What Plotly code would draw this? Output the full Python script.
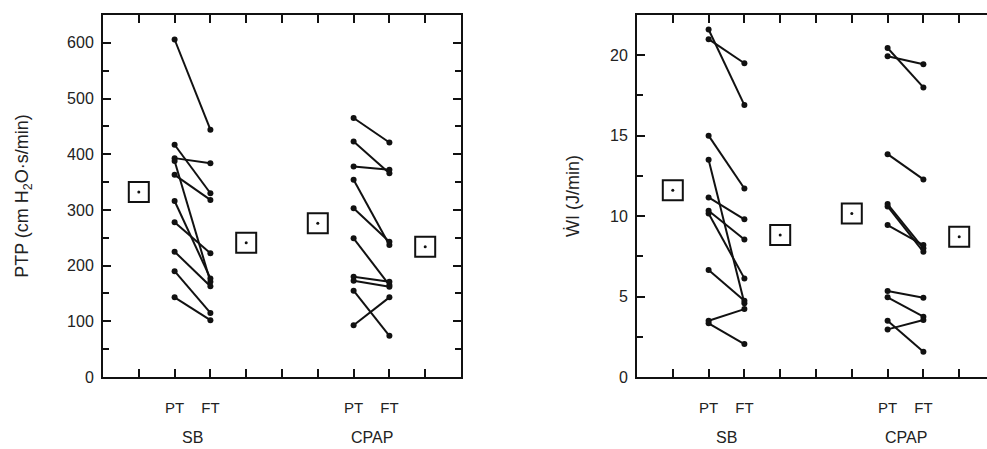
import plotly.graph_objects as go

# ---- data ----
ptp_sb_pt = [606, 417, 393, 388, 363, 316, 278, 225, 190, 143]
ptp_sb_ft = [444, 330, 384, 171, 318, 177, 222, 163, 115, 102]
ptp_cpap_pt = [465, 423, 378, 354, 303, 249, 180, 173, 155, 93]
ptp_cpap_ft = [421, 366, 372, 237, 243, 165, 171, 162, 74, 143]
ptp_means = [332, 241, 276, 234]

wi_sb_pt = [21.6, 21.0, 15.0, 13.5, 11.16, 10.33, 10.16, 6.65, 3.5, 3.34]
wi_sb_ft = [16.9, 19.5, 11.72, 4.58, 9.8, 8.55, 6.13, 4.74, 4.22, 2.05]
wi_cpap_pt = [20.45, 19.94, 13.85, 10.75, 10.6, 9.44, 5.34, 4.95, 3.5, 2.96]
wi_cpap_ft = [18.0, 19.44, 12.28, 8.0, 7.78, 8.2, 4.93, 3.75, 1.57, 3.54]
wi_means = [11.6, 8.82, 10.16, 8.71]

mean_pos = [1, 4, 6, 9]          # SB PT mean, SB FT mean, CPAP PT mean, CPAP FT mean
pair_pos = {"SB": (2, 3), "CPAP": (7, 8)}
tick_vals = [2, 3, 7, 8]
tick_text = ["PT", "FT", "PT", "FT"]
group_labels = ["SB", "CPAP"]
group_pos = [2.5, 7.5]

FONT = "Liberation Sans, Arial, Helvetica, sans-serif"
INK = "#111111"
TXT = "#222222"

fig = go.Figure()


def add_pairs(pt, ft, xs, xa, ya):
    x, y = [], []
    for a, b in zip(pt, ft):
        x += [xs[0], xs[1], None]
        y += [a, b, None]
    fig.add_trace(go.Scatter(x=x, y=y, mode="lines+markers", xaxis=xa, yaxis=ya,
                             line=dict(color=INK, width=2),
                             marker=dict(color=INK, size=6),
                             showlegend=False, hoverinfo="skip"))


def add_means(vals, xa, ya):
    fig.add_trace(go.Scatter(x=mean_pos, y=vals, mode="markers", xaxis=xa, yaxis=ya,
                             marker=dict(symbol="square-open", size=20, color=INK,
                                         line=dict(width=2, color=INK)),
                             showlegend=False, hoverinfo="skip"))
    fig.add_trace(go.Scatter(x=mean_pos, y=vals, mode="markers", xaxis=xa, yaxis=ya,
                             marker=dict(symbol="circle", size=3, color=INK),
                             showlegend=False, hoverinfo="skip"))


add_pairs(ptp_sb_pt, ptp_sb_ft, pair_pos["SB"], "x", "y")
add_pairs(ptp_cpap_pt, ptp_cpap_ft, pair_pos["CPAP"], "x", "y")
add_means(ptp_means, "x", "y")
add_pairs(wi_sb_pt, wi_sb_ft, pair_pos["SB"], "x2", "y2")
add_pairs(wi_cpap_pt, wi_cpap_ft, pair_pos["CPAP"], "x2", "y2")
add_means(wi_means, "x2", "y2")

W, H = 987, 449
L0, L1 = 103, 461
R0 = 637
unit = (L1 - L0) / 10.0

xcommon = dict(tickvals=tick_vals, ticktext=tick_text, ticks="inside", ticklen=8,
               tickwidth=1.5, tickcolor=INK, showline=True, linecolor=INK, linewidth=2,
               minor=dict(dtick=1, tick0=0, ticks="inside", ticklen=8, tickwidth=1.5, tickcolor=INK),
               mirror="ticks", showgrid=False, zeroline=False,
               tickfont=dict(family=FONT, size=15, color=TXT), ticklabelstandoff=16)
ycommon = dict(ticks="inside", ticklen=8, tickwidth=1.5, tickcolor=INK, showline=True,
               linecolor=INK, linewidth=2, showgrid=False, zeroline=False,
               tickfont=dict(family=FONT, size=16, color=TXT), ticklabelstandoff=4,
               title_font=dict(family=FONT, size=18, color=TXT))

fig.update_layout(
    width=W, height=H, plot_bgcolor="white", paper_bgcolor="white",
    margin=dict(l=0, r=0, t=15, b=72),
    xaxis=dict(domain=[L0 / W, L1 / W], range=[0, 10], anchor="y", **xcommon),
    yaxis=dict(domain=[0, 1], range=[0, 650], anchor="x", tickvals=[0, 100, 200, 300, 400, 500, 600],
               minor=dict(dtick=50, ticks="inside", ticklen=6, tickcolor=INK, tickwidth=1.5),
               mirror="ticks",
               title=dict(text="PTP (cm H<sub>2</sub>O·s/min)", standoff=34), **ycommon),
    xaxis2=dict(domain=[R0 / W, 1.0], range=[0, (W - R0) / unit], anchor="y2", **xcommon),
    yaxis2=dict(domain=[0, 1], range=[0, 22.5], anchor="x2", tickvals=[0, 5, 10, 15, 20],
                minor=dict(dtick=2.5, ticks="inside", ticklen=6, tickcolor=INK, tickwidth=1.5),
                mirror=False,
                title=dict(text="ẆI (J/min)", standoff=26), **ycommon),
)

for xa in ["x", "x2"]:
    for lab, gx in zip(group_labels, group_pos):
        fig.add_annotation(x=gx, y=-0.166, xref=xa, yref="paper", text=lab, showarrow=False,
                           yanchor="middle", font=dict(family=FONT, size=16, color=TXT))

fig.write_html("out.html", config={"displayModeBar": False},
               post_script="document.body.style.margin='0';document.body.style.overflow='hidden';")
